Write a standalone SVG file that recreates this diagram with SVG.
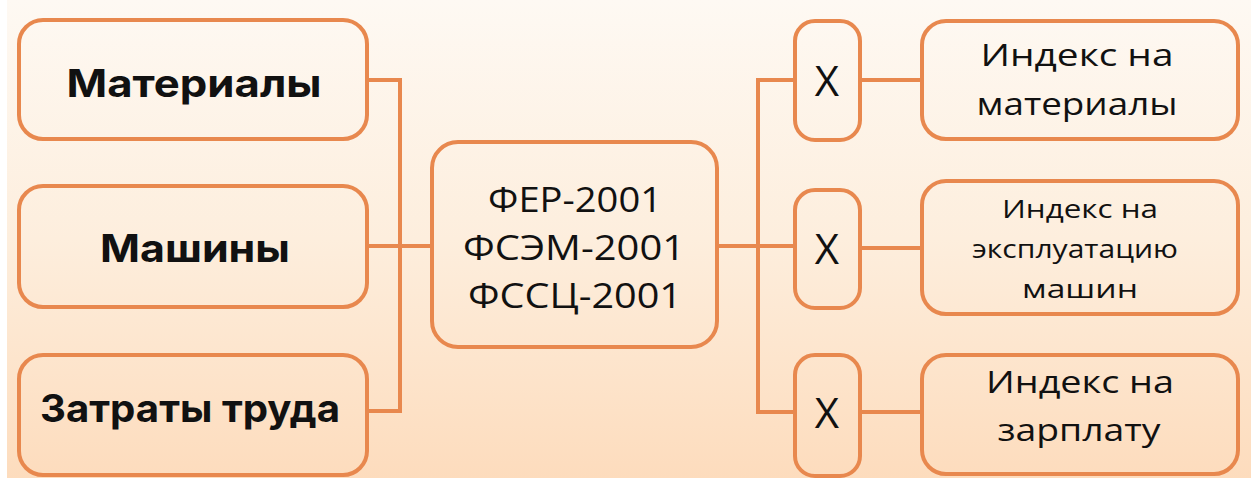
<svg xmlns="http://www.w3.org/2000/svg" width="1251" height="482" viewBox="0 0 1251 482">
  <defs>
    <linearGradient id="bg" x1="0" y1="0" x2="0" y2="1">
      <stop offset="0" stop-color="#fef9f3"/>
      <stop offset="0.5" stop-color="#fdeedd"/>
      <stop offset="1" stop-color="#fddcbd"/>
    </linearGradient>
    <style>
      .box { fill: none; stroke: #e8884e; stroke-width: 4; }
      .conn { fill: none; stroke: #e8884e; stroke-width: 4; stroke-linejoin: miter; }
      .bold { font-family: Inter, Roboto, "Liberation Sans", sans-serif; font-weight: 700; font-size: 38px; fill: #111; text-anchor: middle; }
      .reg { font-family: "Open Sans", Roboto, "Liberation Sans", sans-serif; font-weight: 400; fill: #111; text-anchor: middle; }
    </style>
  </defs>
  <rect x="0" y="0" width="1251" height="482" fill="#ffffff"/>
  <rect x="7" y="0" width="1244" height="478" fill="url(#bg)"/>

  <g id="connectors">
    <polyline class="conn" points="367,80 400,80 400,411 367,411"/>
    <line class="conn" x1="367" y1="246" x2="432" y2="246"/>
    <line class="conn" x1="717" y1="246" x2="795" y2="246"/>
    <polyline class="conn" points="795,80 758,80 758,412 795,412"/>
    <line class="conn" x1="860" y1="80" x2="922" y2="80"/>
    <line class="conn" x1="860" y1="248" x2="922" y2="248"/>
    <line class="conn" x1="860" y1="412" x2="922" y2="412"/>
  </g>

  <g id="materials">
    <rect class="box" x="19" y="20" width="348" height="119" rx="24"/>
    <text class="bold" x="194" y="97" textLength="255" lengthAdjust="spacingAndGlyphs">Материалы</text>
  </g>
  <g id="machines">
    <rect class="box" x="19" y="186" width="348" height="121" rx="24"/>
    <text class="bold" x="195" y="262" textLength="190" lengthAdjust="spacingAndGlyphs">Машины</text>
  </g>
  <g id="labor">
    <rect class="box" x="19" y="355" width="348" height="120" rx="24"/>
    <text class="bold" x="190" y="422" textLength="300" lengthAdjust="spacingAndGlyphs">Затраты труда</text>
  </g>

  <g id="center">
    <rect class="box" x="432" y="142" width="285" height="205" rx="26"/>
    <text class="reg" x="575" y="212" font-size="34" textLength="174" lengthAdjust="spacingAndGlyphs">ФЕР-2001</text>
    <text class="reg" x="574" y="260" font-size="34" textLength="222" lengthAdjust="spacingAndGlyphs">ФСЭМ-2001</text>
    <text class="reg" x="575" y="308" font-size="34" textLength="214" lengthAdjust="spacingAndGlyphs">ФССЦ-2001</text>
  </g>

  <g id="x1">
    <rect class="box" x="795" y="21" width="65" height="119" rx="20"/>
    <text class="reg" x="827" y="96" font-size="42">X</text>
  </g>
  <g id="x2">
    <rect class="box" x="795" y="190" width="65" height="118" rx="20"/>
    <text class="reg" x="827" y="264" font-size="42">X</text>
  </g>
  <g id="x3">
    <rect class="box" x="795" y="355" width="65" height="121" rx="20"/>
    <text class="reg" x="827" y="428" font-size="42">X</text>
  </g>

  <g id="idx-materials">
    <rect class="box" x="922" y="21" width="316" height="118" rx="24"/>
    <text class="reg" x="1077" y="66" font-size="31" textLength="193" lengthAdjust="spacingAndGlyphs">Индекс на</text>
    <text class="reg" x="1077" y="115" font-size="31" textLength="201" lengthAdjust="spacingAndGlyphs">материалы</text>
  </g>
  <g id="idx-machines">
    <rect class="box" x="922" y="181" width="316" height="133" rx="24"/>
    <text class="reg" x="1080" y="218" font-size="25" textLength="156" lengthAdjust="spacingAndGlyphs">Индекс на</text>
    <text class="reg" x="1075" y="258" font-size="25" textLength="206" lengthAdjust="spacingAndGlyphs">эксплуатацию</text>
    <text class="reg" x="1080" y="298" font-size="25" textLength="116" lengthAdjust="spacingAndGlyphs">машин</text>
  </g>
  <g id="idx-salary">
    <rect class="box" x="922" y="355" width="316" height="119" rx="24"/>
    <text class="reg" x="1080" y="393" font-size="31" textLength="188" lengthAdjust="spacingAndGlyphs">Индекс на</text>
    <text class="reg" x="1079" y="441" font-size="31" textLength="163" lengthAdjust="spacingAndGlyphs">зарплату</text>
  </g>
</svg>
